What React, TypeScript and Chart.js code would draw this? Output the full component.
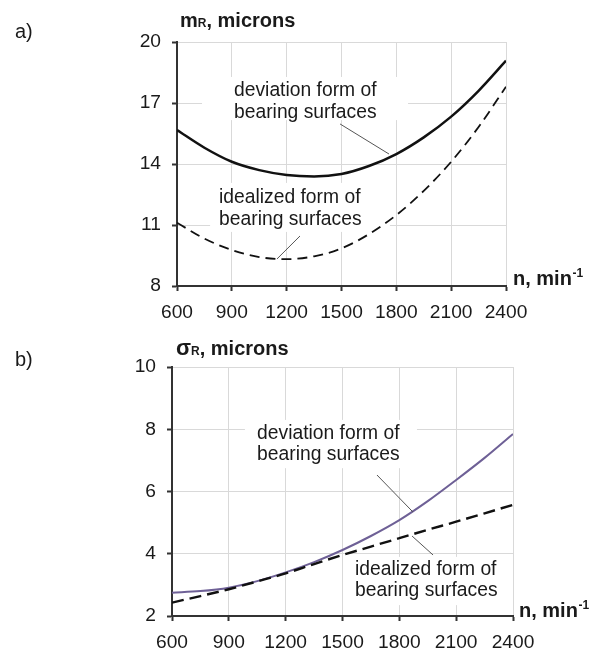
import React, { useEffect, useRef } from "react";
import { Chart, registerables } from "chart.js";

Chart.register(...registerables);

const FONT = "'Liberation Sans', Arial, sans-serif";
Chart.defaults.font.family = FONT;

// Rotational speed, min^-1
const rpm = [600, 750, 900, 1050, 1200, 1350, 1500, 1650, 1800, 1950, 2100, 2250, 2400];
// a) mR, microns
const mDeviation = [15.67, 14.8, 14.11, 13.7, 13.46, 13.39, 13.51, 13.9, 14.49, 15.31, 16.33, 17.6, 19.08];
const mIdealized = [11.11, 10.33, 9.77, 9.42, 9.32, 9.46, 9.85, 10.55, 11.49, 12.68, 14.11, 15.82, 17.8];
// b) sigmaR, microns
const sDeviation = [2.75, 2.8, 2.91, 3.12, 3.4, 3.73, 4.12, 4.57, 5.08, 5.69, 6.37, 7.08, 7.85];
const sIdealized = [2.43, 2.64, 2.86, 3.11, 3.37, 3.67, 3.96, 4.23, 4.5, 4.77, 5.03, 5.3, 5.57];

const rpmTicks = [600, 900, 1200, 1500, 1800, 2100, 2400];
const mTicks = [8, 11, 14, 17, 20];
const sTicks = [2, 4, 6, 8, 10];

const labelDeviation = ["deviation form of", "bearing surfaces"];
const labelIdealized = ["idealized form of", "bearing surfaces"];

type Note = {
  lines: string[];
  at: [number, number];
  box: [number, number, number, number];
  leader: [number, number, number, number];
};

type Decor = {
  panel: string;
  panelY: number;
  sym: string;
  symSize: number;
  titleX: number;
  titleY: number;
  xLabelX: number;
  xLabelY: number;
  notes: Note[];
};

function makeDecor(cfg: Decor) {
  return {
    id: "decor",
    beforeDatasetsDraw(chart: any) {
      const { ctx, scales } = chart;
      const sx = scales.x, sy = scales.y;
      ctx.save();
      ctx.fillStyle = "#ffffff";
      for (const n of cfg.notes) {
        const x1 = sx.getPixelForValue(n.box[0]);
        const y1 = sy.getPixelForValue(n.box[1]);
        const x2 = sx.getPixelForValue(n.box[2]);
        const y2 = sy.getPixelForValue(n.box[3]);
        ctx.fillRect(Math.min(x1, x2), Math.min(y1, y2), Math.abs(x2 - x1), Math.abs(y2 - y1));
      }
      ctx.restore();
    },
    afterDatasetsDraw(chart: any) {
      const { ctx, scales } = chart;
      const sx = scales.x, sy = scales.y;
      ctx.save();
      // leaders
      ctx.strokeStyle = "#555555";
      ctx.lineWidth = 1;
      for (const n of cfg.notes) {
        ctx.beginPath();
        ctx.moveTo(sx.getPixelForValue(n.leader[0]), sy.getPixelForValue(n.leader[1]));
        ctx.lineTo(sx.getPixelForValue(n.leader[2]), sy.getPixelForValue(n.leader[3]));
        ctx.stroke();
      }
      // note texts
      ctx.fillStyle = "#1a1a1a";
      ctx.font = `19.3px ${FONT}`;
      ctx.textAlign = "left";
      ctx.textBaseline = "alphabetic";
      for (const n of cfg.notes) {
        const x = sx.getPixelForValue(n.at[0]);
        const y = sy.getPixelForValue(n.at[1]);
        n.lines.forEach((l, i) => ctx.fillText(l, x, y + i * 21.5));
      }
      // panel letter
      ctx.font = `20px ${FONT}`;
      ctx.fillText(cfg.panel, 15, cfg.panelY);
      // y title
      let x = cfg.titleX;
      ctx.font = `bold ${cfg.symSize}px ${FONT}`;
      ctx.fillText(cfg.sym, x, cfg.titleY);
      x += ctx.measureText(cfg.sym).width;
      ctx.font = `bold 12px ${FONT}`;
      ctx.fillText("R", x, cfg.titleY);
      x += ctx.measureText("R").width;
      ctx.font = `bold 20px ${FONT}`;
      ctx.fillText(", microns", x, cfg.titleY);
      // x title
      x = cfg.xLabelX;
      ctx.font = `bold 20px ${FONT}`;
      ctx.fillText("n, min", x, cfg.xLabelY);
      x += ctx.measureText("n, min").width + 0.5;
      ctx.font = `bold 12px ${FONT}`;
      ctx.fillText("-1", x, cfg.xLabelY - 8);
      ctx.restore();
    },
  };
}

function buildChart(
  canvas: HTMLCanvasElement,
  dev: number[],
  ideal: number[],
  yTicks: number[],
  devStyle: { color: string; width: number },
  dash: number[],
  dashWidth: number,
  yWidth: number,
  xHeight: number,
  pad: { top: number; right: number },
  decor: Decor
) {
  const tickFont = { size: 19.2, family: FONT };
  return new Chart(canvas, {
    type: "line",
    data: {
      datasets: [
        {
          data: rpm.map((n, i) => ({ x: n, y: dev[i] })),
          borderColor: devStyle.color,
          borderWidth: devStyle.width,
          pointRadius: 0,
          cubicInterpolationMode: "monotone",
          order: 1,
        },
        {
          data: rpm.map((n, i) => ({ x: n, y: ideal[i] })),
          borderColor: "#111111",
          borderWidth: dashWidth,
          borderDash: dash,
          pointRadius: 0,
          cubicInterpolationMode: "monotone",
          order: 0,
        },
      ],
    },
    options: {
      responsive: false,
      animation: false,
      layout: { padding: { left: 0, top: pad.top, right: pad.right, bottom: 0 } },
      plugins: { legend: { display: false }, tooltip: { enabled: false } },
      scales: {
        x: {
          type: "linear",
          min: rpmTicks[0],
          max: rpmTicks[rpmTicks.length - 1],
          afterBuildTicks: (s: any) => {
            s.ticks = rpmTicks.map((v) => ({ value: v }));
          },
          afterFit: (s: any) => {
            s.height = xHeight;
          },
          grid: { color: "#d9d9d9", lineWidth: 1, tickLength: 5, tickColor: "#333333", tickWidth: 2 },
          border: { color: "#333333", width: 2 },
          ticks: {
            color: "#1a1a1a",
            font: tickFont,
            padding: 10,
            maxRotation: 0,
            callback: (v: any) => String(v),
          },
        },
        y: {
          type: "linear",
          min: yTicks[0],
          max: yTicks[yTicks.length - 1],
          afterBuildTicks: (s: any) => {
            s.ticks = yTicks.map((v) => ({ value: v }));
          },
          afterFit: (s: any) => {
            s.width = yWidth;
          },
          grid: { color: "#d9d9d9", lineWidth: 1, tickLength: 5, tickColor: "#333333", tickWidth: 2 },
          border: { color: "#333333", width: 2 },
          ticks: { color: "#1a1a1a", font: tickFont, padding: 11, callback: (v: any) => String(v) },
        },
      },
    } as any,
    plugins: [makeDecor(decor) as any],
  });
}

export default function App() {
  const refA = useRef<HTMLCanvasElement>(null);
  const refB = useRef<HTMLCanvasElement>(null);

  useEffect(() => {
    const a = buildChart(
      refA.current!,
      mDeviation,
      mIdealized,
      mTicks,
      { color: "#111111", width: 2.5 },
      [10, 6],
      1.8,
      177,
      44,
      { top: 42, right: 90 },
      {
        panel: "a)",
        panelY: 38,
        sym: "m",
        symSize: 20,
        titleX: 180,
        titleY: 27,
        xLabelX: 513,
        xLabelY: 285,
        notes: [
          { lines: labelDeviation, at: [912, 17.32], box: [737, 18.28, 1864, 16.16], leader: [1492, 15.97, 1760, 14.49] },
          { lines: labelIdealized, at: [830, 12.08], box: [781, 13.07, 1765, 10.66], leader: [1273, 10.46, 1147, 9.33] },
        ],
      }
    );
    const b = buildChart(
      refB.current!,
      sDeviation,
      sIdealized,
      sTicks,
      { color: "#6e6096", width: 2 },
      [12, 6],
      2.4,
      172,
      37,
      { top: 37, right: 83 },
      {
        panel: "b)",
        panelY: 36,
        sym: "σ",
        symSize: 22,
        titleX: 176,
        titleY: 25,
        xLabelX: 519,
        xLabelY: 287,
        notes: [
          { lines: labelDeviation, at: [1049, 7.69], box: [985, 8.3, 1893, 6.75], leader: [1682, 6.53, 1872, 5.34] },
          { lines: labelIdealized, at: [1566, 3.32], box: [1513, 3.9, 2358, 2.35], leader: [1978, 3.96, 1867, 4.57] },
        ],
      }
    );
    return () => {
      a.destroy();
      b.destroy();
    };
  }, []);

  return (
    <div
      style={{
        position: "fixed",
        left: 0,
        top: 0,
        width: 596,
        height: 653,
        background: "#ffffff",
        overflow: "hidden",
      }}
    >
      <canvas ref={refA} width={596} height={330} style={{ position: "absolute", left: 0, top: 0, display: "block" }} />
      <canvas ref={refB} width={596} height={323} style={{ position: "absolute", left: 0, top: 330, display: "block" }} />
    </div>
  );
}
